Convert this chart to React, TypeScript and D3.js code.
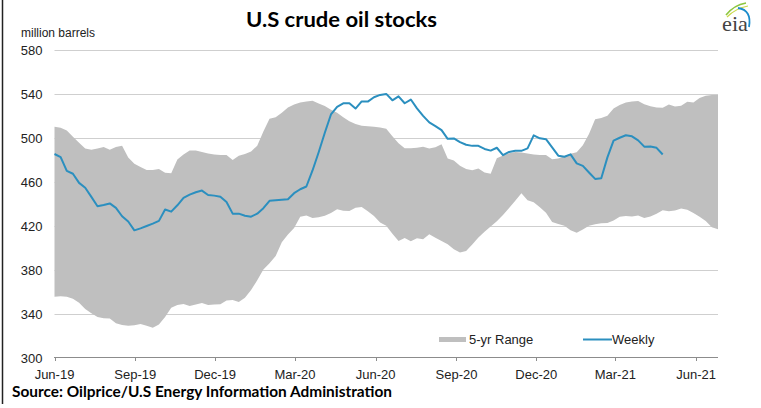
import React from "react";
import * as d3 from "d3";

const START = new Date(2019, 5, 1);

const weeklyStocks = [
  485.3, 482.5, 469.9, 467.3, 459, 454.6, 446.3, 437.7, 438.8, 440.3,
  436.3, 428.6, 423.8, 415.8, 417.6, 419.7, 421.9, 424.4, 434.8, 432.8,
  438.6, 445.4, 448.3, 450.5, 452, 448, 447.4, 446.3, 441.6, 431,
  431, 429.1, 428.2, 431, 436, 442.7, 443.2, 443.7, 444.1, 449.6,
  453.2, 455.7, 470.3, 486.9, 504.6, 521.3, 528.2, 531.4, 531.5, 526.7,
  533.2, 533, 537, 539.1, 540, 534.2, 537.8, 531.5, 534.9, 526.9,
  520, 514.1, 510.7, 507, 499.1, 499.5, 496.1, 493.7, 492.7, 492.7,
  489.9, 488.4, 491, 484.3, 487.2, 488.3, 488.2, 490.4, 502.3, 499.6,
  498.8, 491.3, 483.8, 482.8, 485, 476.8, 474.5, 468.5, 462.6, 463.2,
  482.2, 497.4, 500.1, 502.4, 501.4, 497.7, 492, 492.1, 490.9, 484.8,
];

const rangeHigh = [
  510.2, 509.3, 506.6, 501, 495.6, 490.4, 489.1, 490.4, 491.6, 489.1,
  491.7, 492.9, 482.2, 476.5, 473.4, 470.8, 470.7, 471.7, 468.3, 467.8,
  480.4, 484.8, 488.6, 488.6, 487.2, 485.7, 484.8, 484.4, 484.4, 479.8,
  483.6, 485.3, 487.6, 492.9, 505.7, 517.3, 518.8, 522.8, 527.7, 530.3,
  532.3, 533.2, 533.8, 531.2, 528.9, 525.7, 522.8, 518.7, 515.1, 512.7,
  511.1, 510.6, 510.2, 509.5, 508.3, 501.4, 495.1, 490.5, 490.5, 491.1,
  492, 490.2, 491.5, 494.1, 481.2, 479.4, 474.5, 471.7, 470.4, 472.1,
  468.4, 467.3, 481.5, 483.9, 485.9, 487.1, 486.7, 485.8, 484.8, 484.4,
  484.4, 480.6, 481.2, 483.2, 485.5, 486.8, 493.3, 503.6, 517, 518.1,
  520.2, 526.8, 529.9, 532.2, 533.1, 533.6, 530.6, 528.7, 527.7, 527.5,
  530.4, 528.5, 529.2, 532.9, 532.1, 536.2, 538.4, 539, 539,
];

const rangeLow = [
  355.4, 355.8, 355.3, 353.4, 349.8, 344.2, 340.4, 336.9, 335.7, 335.5,
  331.3, 329.7, 328.9, 329.4, 330.6, 328.8, 327, 330, 336.8, 345.4,
  347.9, 348.7, 346.9, 348.3, 349.7, 347.8, 348.2, 348.6, 352, 352.3,
  350.5, 354.5, 361.5, 370.3, 380.1, 385.8, 392.4, 404.9, 412.1, 418,
  428.1, 429.4, 427.1, 427.6, 429, 431.6, 434.9, 433.7, 433.5, 436.4,
  437.1, 433.1, 428.8, 422.9, 420, 412.7, 406, 408.9, 405.8, 408.5,
  407.7, 412.2, 409.1, 406.1, 403.1, 398.6, 395.6, 396.9, 403, 409.3,
  414.5, 419.3, 424, 429.7, 436.1, 442.8, 449.5, 443.1, 441.3, 436.9,
  431.7, 423.4, 421.5, 419.9, 415.8, 413.7, 416.5, 420, 421.4, 422.2,
  422.4, 424.7, 428.1, 428.9, 428.4, 429.2, 427, 428.5, 431, 434.1,
  433.2, 433.9, 435.7, 434.5, 431.5, 428.2, 424.2, 418.5, 416.7,
];

const yTicks = [300, 340, 380, 420, 460, 500, 540, 580];

const TITLE = "U.S crude oil stocks";
const SOURCE = "Source: Oilprice/U.S Energy Information Administration";
const Y_UNIT = "million barrels";
const LEGEND_RANGE = "5-yr Range";
const LEGEND_WEEKLY = "Weekly";

const BAND = "#bfbfbf";
const LINE = "#2b8fbf";
const SANS = "'Liberation Sans', Arial, sans-serif";
const BOLD = "Lato, 'Open Sans', sans-serif";

export default function App() {
  const dates = rangeHigh.map((_, i) => d3.timeDay.offset(START, 7 * i));
  const x = d3
    .scaleTime()
    .domain([dates[0], dates[dates.length - 1]])
    .range([54.5, 718]);
  const y = d3.scaleLinear().domain([300, 580]).range([357.5, 50]);

  const bandData = dates.map((d, i) => ({ d, lo: rangeLow[i], hi: rangeHigh[i] }));
  const area = d3
    .area<{ d: Date; lo: number; hi: number }>()
    .x((p) => x(p.d))
    .y0((p) => y(p.lo))
    .y1((p) => y(p.hi));

  const lineData = weeklyStocks.map((v, i) => ({ d: dates[i], v }));
  const line = d3
    .line<{ d: Date; v: number }>()
    .x((p) => x(p.d))
    .y((p) => y(p.v));

  const tickDates = d3.timeMonth.range(new Date(2019, 5, 1), new Date(2021, 6, 1), 3);
  const fmt = d3.timeFormat("%b-%y");

  return (
    <svg
      width={761}
      height={408}
      style={{ position: "absolute", left: 0, top: 0, background: "#fff" }}
    >
      <rect x={0} y={0} width={761} height={408} fill="#fff" />
      {/* left frame */}
      <line x1={2.5} x2={2.5} y1={0} y2={404} stroke="#222" strokeWidth={1.5} />

      {/* title */}
      <text
        x={246}
        y={27}
        fontFamily={BOLD}
        fontWeight={700}
        fontSize={21}
        fill="#000"
        textLength={191}
        lengthAdjust="spacingAndGlyphs"
      >
        {TITLE}
      </text>

      {/* eia logo */}
      <g>
        <path d="M726,15 Q734,5 746,3" fill="none" stroke="#8dc63f" strokeWidth={1.6} />
        <path d="M727,17 Q736,8 748,6" fill="none" stroke="#c9d94a" strokeWidth={1.2} />
        <path d="M738,8 Q752,10 749,27" fill="none" stroke="#1b8ccb" strokeWidth={1.8} />
        <text
          x={722}
          y={31}
          fontFamily="'Liberation Serif', 'DejaVu Serif', serif"
          fontSize={22}
          fill="#444"
          textLength={26}
          lengthAdjust="spacingAndGlyphs"
        >
          eia
        </text>
      </g>

      {/* unit label */}
      <text x={21} y={37} fontFamily={SANS} fontSize={12} fill="#222">
        {Y_UNIT}
      </text>

      {/* gridlines */}
      {yTicks
        .filter((t) => t !== 300)
        .map((t) => (
          <line
            key={t}
            x1={54.5}
            x2={718}
            y1={Math.round(y(t)) + 0.5}
            y2={Math.round(y(t)) + 0.5}
            stroke="#cfcfcf"
            strokeWidth={1}
          />
        ))}

      {/* y tick labels */}
      {yTicks.map((t) => (
        <text
          key={t}
          x={42.5}
          y={y(t) + 5}
          textAnchor="end"
          fontFamily={SANS}
          fontSize={13}
          fill="#222"
        >
          {t}
        </text>
      ))}

      {/* band */}
      <path d={area(bandData) || ""} fill={BAND} stroke="none" />

      {/* weekly line */}
      <path
        d={line(lineData) || ""}
        fill="none"
        stroke={LINE}
        strokeWidth={2}
        strokeLinejoin="round"
      />

      {/* x axis */}
      <line x1={54} x2={718} y1={357.5} y2={357.5} stroke="#8c8c8c" strokeWidth={1} />
      {tickDates.map((d, i) => (
        <g key={i}>
          <line
            x1={Math.round(x(d)) + 0.5}
            x2={Math.round(x(d)) + 0.5}
            y1={357}
            y2={361}
            stroke="#8c8c8c"
            strokeWidth={1}
          />
          <text
            x={x(d)}
            y={378.5}
            textAnchor="middle"
            fontFamily={SANS}
            fontSize={13}
            fill="#222"
          >
            {fmt(d)}
          </text>
        </g>
      ))}

      {/* legend */}
      <rect x={439} y={337} width={27} height={5} fill={BAND} />
      <text x={469} y={344} fontFamily={SANS} fontSize={13} fill="#222">
        {LEGEND_RANGE}
      </text>
      <line x1={583} x2={612} y1={339.5} y2={339.5} stroke={LINE} strokeWidth={2} />
      <text x={612} y={344} fontFamily={SANS} fontSize={13} fill="#222">
        {LEGEND_WEEKLY}
      </text>

      {/* source */}
      <text
        x={12}
        y={397}
        fontFamily={BOLD}
        fontWeight={700}
        fontSize={15}
        fill="#000"
        textLength={380}
        lengthAdjust="spacingAndGlyphs"
      >
        {SOURCE}
      </text>
    </svg>
  );
}
